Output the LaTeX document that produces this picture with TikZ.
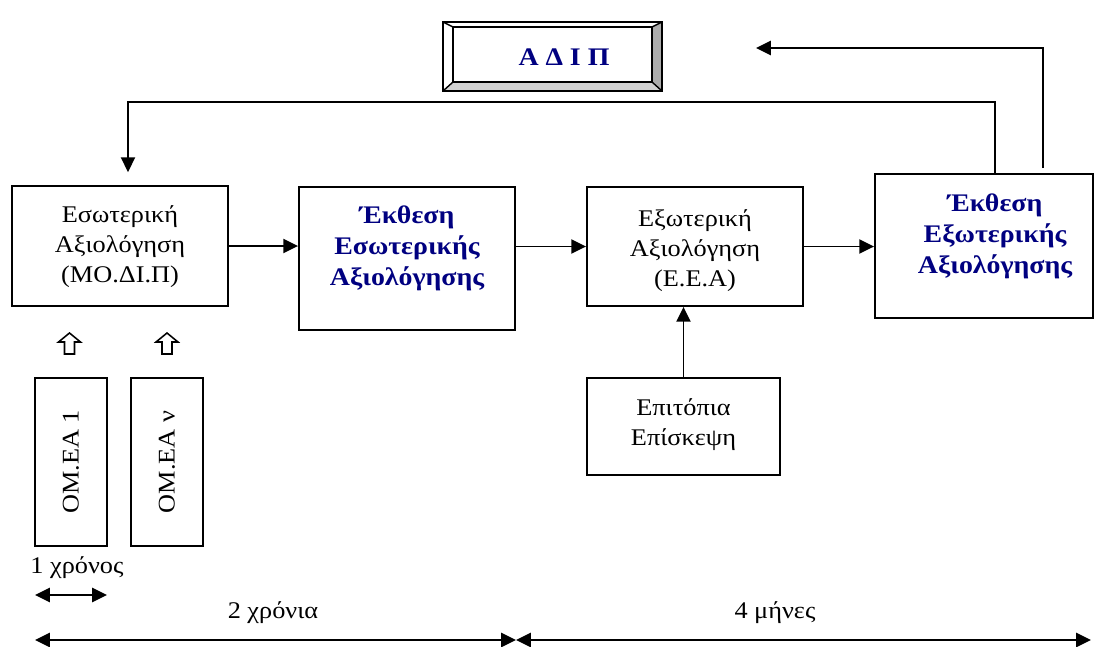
\documentclass[tikz,border=0pt]{standalone}
\usepackage{fontspec}
\usepackage{graphicx}
\setmainfont{Liberation Serif}[FakeStretch=1.1]
\usetikzlibrary{arrows.meta}
\definecolor{navy}{RGB}{0,0,128}
\tikzset{
  box/.style={draw, line width=1.3pt, inner sep=0pt},
  txt/.style={align=center, inner sep=0pt, font=\fontsize{17}{21.3}\selectfont},
  btxt/.style={align=center, inner sep=0pt, text=navy, font=\fontsize{18}{22}\selectfont\bfseries},
  conn/.style={line width=1.3pt, -{Triangle[length=10.5pt,width=10pt]}},
  span/.style={line width=1.3pt, {Triangle[length=10.5pt,width=10pt]}-{Triangle[length=10.5pt,width=10pt]}},
  hollow/.style={draw, line width=1.1pt, fill=white, line join=miter},
  uparr/.pic={\draw[hollow] (-5,21) -- (-5,9) -- (-11,9) -- (0,0) -- (11,9) -- (5,9) -- (5,21) -- cycle;}
}
\begin{document}
\begin{tikzpicture}[x=0.025cm,y=-0.025cm]
\useasboundingbox (0,0) rectangle (1104,646);

% bevelled title frame
\fill[white] (443,22) -- (662,22) -- (652,27) -- (453,27) -- cycle;
\fill[white] (443,22) -- (453,27) -- (453,82) -- (443,91) -- cycle;
\fill[gray!35] (443,91) -- (453,82) -- (652,82) -- (662,91) -- cycle;
\fill[gray!65] (662,22) -- (652,27) -- (652,82) -- (662,91) -- cycle;
\draw[line width=1pt] (443,22) rectangle (662,91);
\draw[line width=1pt] (453,27) rectangle (652,82);
\draw[line width=1pt] (443,22) -- (453,27) (662,22) -- (652,27)
  (443,91) -- (453,82) (662,91) -- (652,82);
\node[btxt] (adip) at (564,57) {Α Δ Ι Π};

% main boxes
\node[box, minimum width=5.4cm, minimum height=3cm] (b1) at (120,246) {};
\node[box, minimum width=5.4cm, minimum height=3.575cm] (b2) at (407,258.5) {};
\node[box, minimum width=5.4cm, minimum height=2.975cm] (b3) at (695,246.5) {};
\node[box, minimum width=5.45cm, minimum height=3.6cm] (b4) at (984,246) {};
\node[box, minimum width=4.825cm, minimum height=2.425cm] (b5) at (683.5,426.5) {};

\node[txt] (t1) at (120,247) {Εσωτερική\\Αξιολόγηση\\(ΜΟ.ΔΙ.Π)};
\node[btxt] (t2) at (407,248) {Έκθεση\\Εσωτερικής\\Αξιολόγησης};
\node[txt] (t3) at (695,251) {Εξωτερική\\Αξιολόγηση\\(Ε.Ε.Α)};
\node[btxt] (t4) at (995,236) {Έκθεση\\Εξωτερικής\\Αξιολόγησης};
\node[txt] (t5) at (683.5,425) {Επιτόπια\\Επίσκεψη};

% working-group boxes
\node[box, txt, minimum width=1.8cm, minimum height=4.2cm] (om1) at (71,462) {\rotatebox{90}{ΟΜ.ΕΑ 1}};
\node[box, txt, minimum width=1.8cm, minimum height=4.2cm] (omv) at (167,462) {\rotatebox{90}{ΟΜ.ΕΑ ν}};
\pic at (69.5,333) {uparr};
\pic at (167,333) {uparr};

% flow
\draw[conn] (b1.east) -- (b1.east -| b2.west);
\draw[conn] (b3.west -| b2.east) -- (b3.west);
\draw[conn] (b3.east) -- (b3.east -| b4.west);
\draw[conn] (b5.north) -- (b5.north |- b3.south);

% feedback loops
\coordinate (fbA) at (995,174);
\coordinate (fbB) at (128,102);
\draw[conn, shorten >=9.2pt] (fbA) |- (fbB) -- (fbB |- b1.north);
\coordinate (upA) at (1043,168);
\coordinate (upB) at (756,48);
\draw[conn] (upA) |- (upB);

% time spans
\node[txt] (lyear) at (77,568) {1 χρόνος};
\coordinate (y1a) at (35,595);
\coordinate (y1b) at (107,595);
\draw[span] (y1a) -- (y1b);
\node[txt] (l2y) at (273,613) {2 χρόνια};
\node[txt] (l4m) at (775,613) {4 μήνες};
\coordinate (pa) at (35,640);
\coordinate (pb) at (516,640);
\coordinate (pc) at (1091,640);
\draw[span] (pa) -- (pb);
\draw[span] (pb) -- (pc);
\end{tikzpicture}
\end{document}
